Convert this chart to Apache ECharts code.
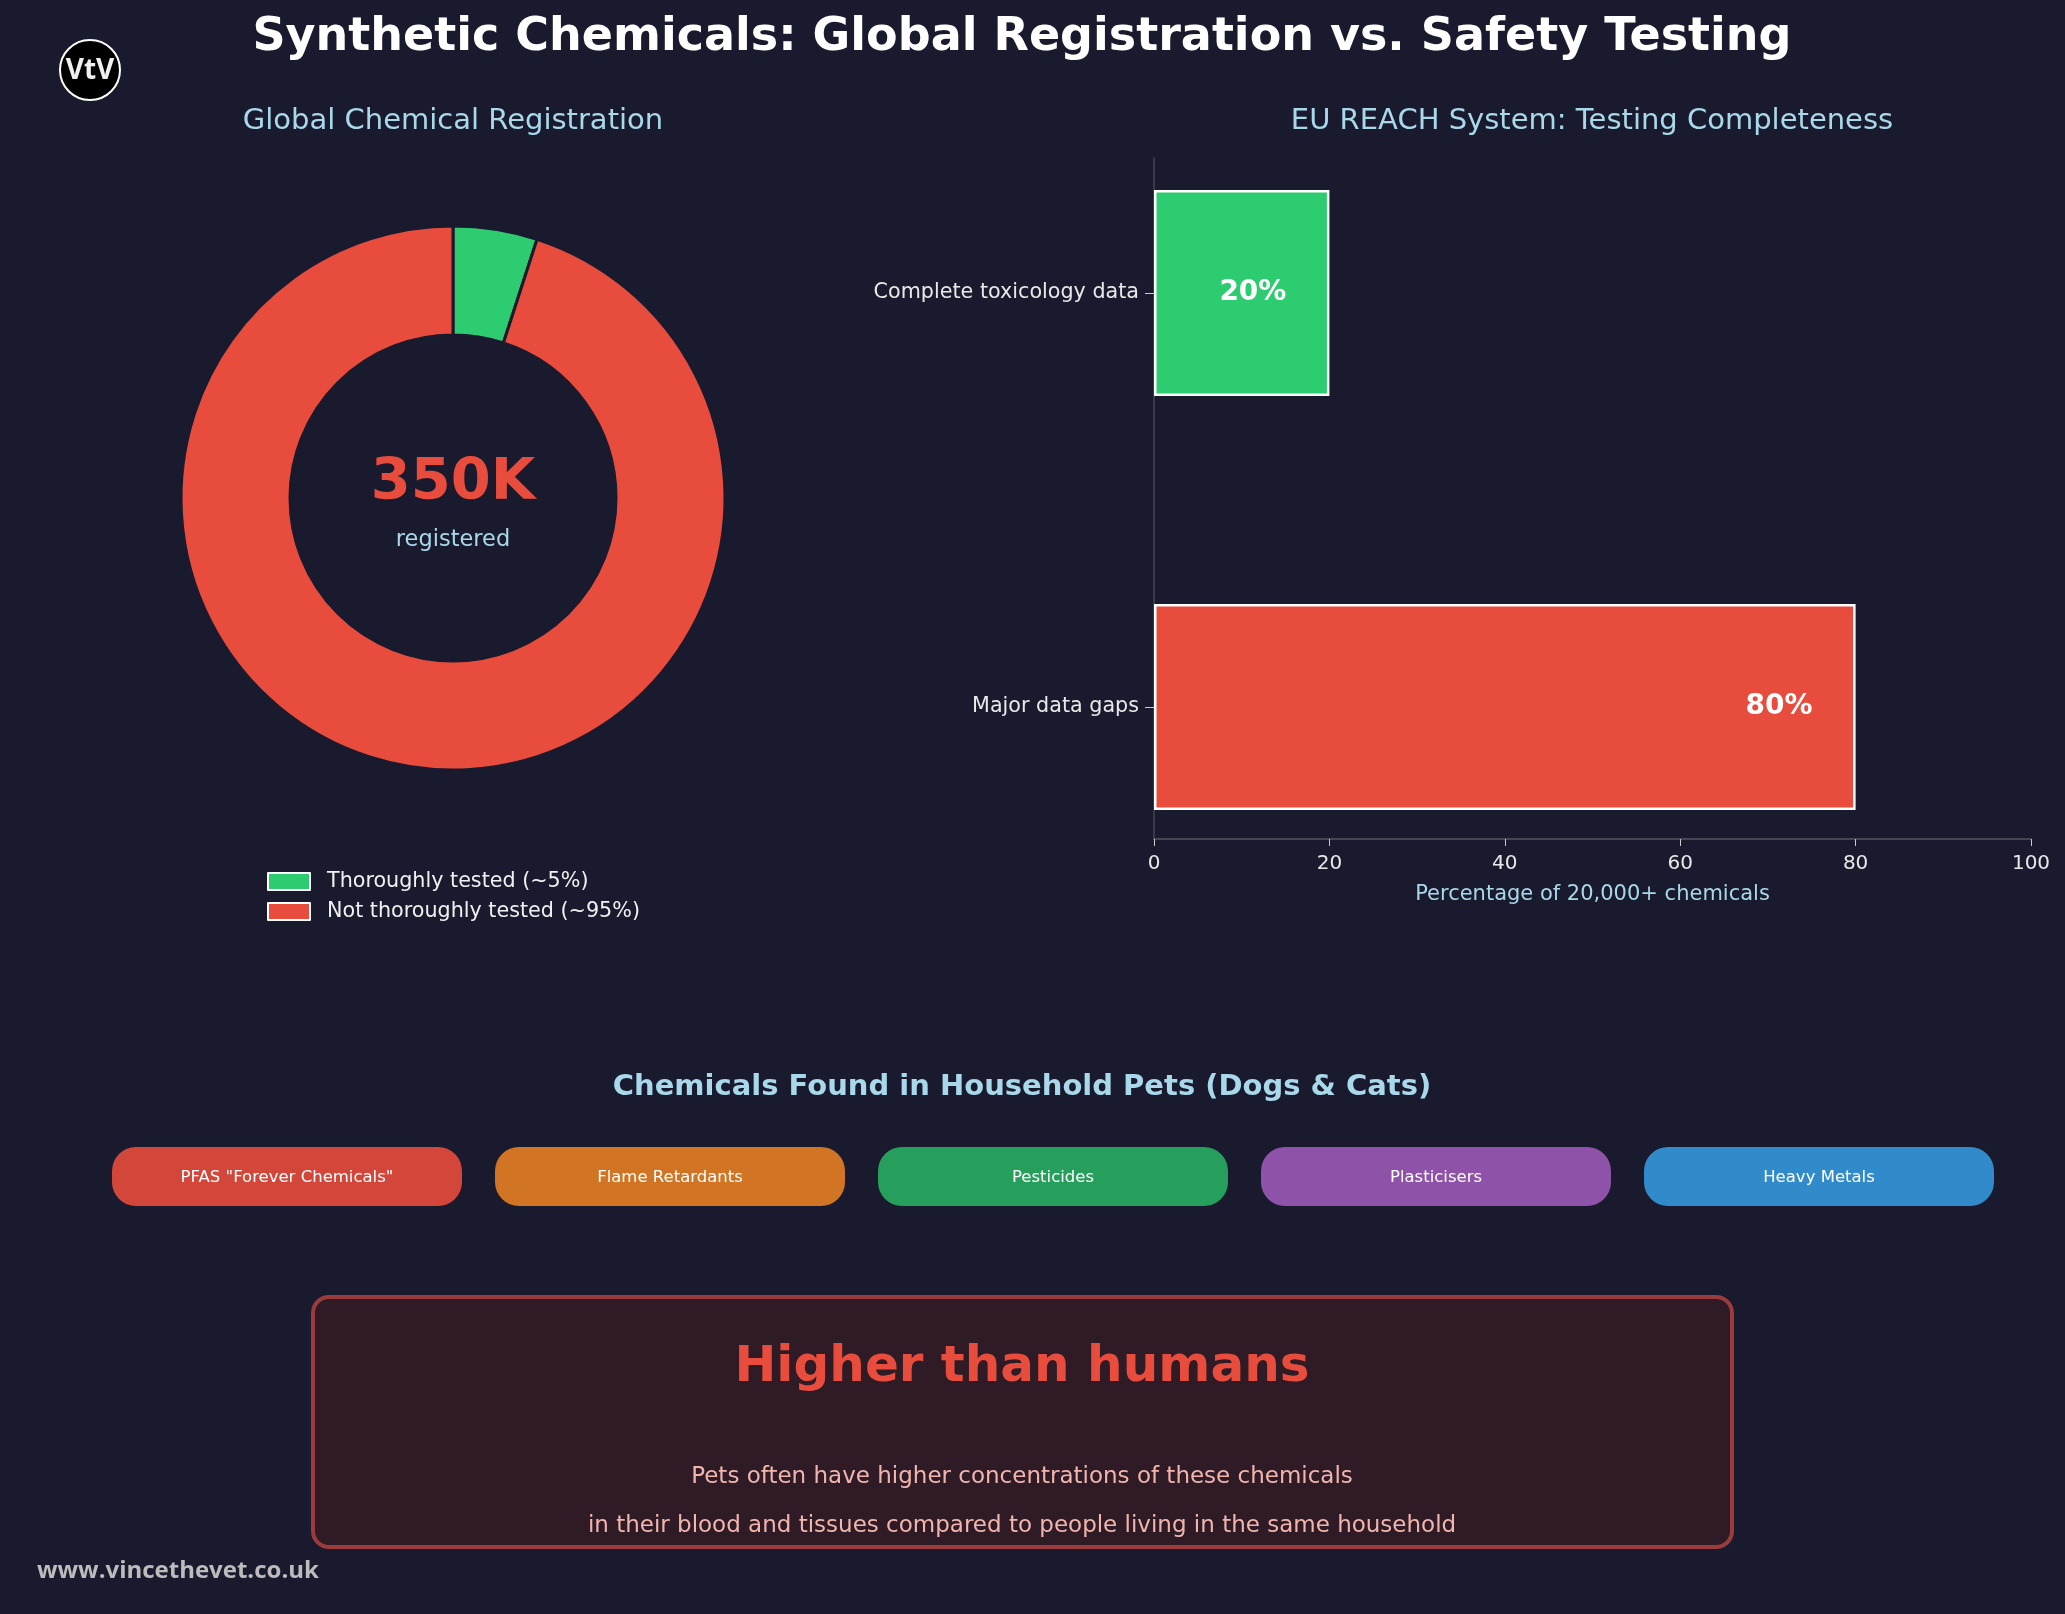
<!DOCTYPE html>
<html>
<head>
<meta charset="utf-8">
<script src="https://cdn.jsdelivr.net/npm/echarts@6/dist/echarts.min.js"></script>
<style>
html,body{margin:0;padding:0;background:#1a1a2e;}
#chart{width:2065px;height:1614px;}
</style>
</head>
<body>
<div id="chart"></div>
<script>
// ---- data ----
const donutLabels = ['Thoroughly tested (~5%)', 'Not thoroughly tested (~95%)'];
const donutValues = [5, 95];
const donutColors = ['#2ecc71', '#e74c3c'];
const registeredTotal = '350K';

const barCategories = ['Complete toxicology data', 'Major data gaps'];
const barValues = [20, 80];
const barColors = ['#2ecc71', '#e74c3c'];
const xTicks = [0, 20, 40, 60, 80, 100];

const petChemicals = ['PFAS "Forever Chemicals"', 'Flame Retardants', 'Pesticides', 'Plasticisers', 'Heavy Metals'];
const petColors = ['#e74c3c', '#e67e22', '#27ae60', '#9b59b6', '#3498db'];

const bg = '#1a1a2e';
const lightBlue = '#a8d8ea';
const font = 'DejaVu Sans';

const chart = echarts.init(document.getElementById('chart'), null, {renderer: 'canvas'});

// pills
const pillW = 350, pillH = 59, pillStart = 112, pillStep = 383, pillTop = 1147;
const pillGraphics = [];
petChemicals.forEach((name, i) => {
  pillGraphics.push({
    type: 'rect',
    shape: {x: pillStart + i * pillStep, y: pillTop, width: pillW, height: pillH, r: 24},
    style: {fill: petColors[i], opacity: 0.9}
  });
  pillGraphics.push({
    type: 'text',
    x: pillStart + i * pillStep + pillW / 2, y: pillTop + pillH / 2 + 1,
    style: {text: name, fill: '#ffffff', font: '16.5px "DejaVu Sans"', textAlign: 'center', textVerticalAlign: 'middle'}
  });
});

const option = {
  backgroundColor: bg,
  animation: false,
  textStyle: {fontFamily: font},
  grid: [
    {left: 1154, right: 34, top: 86, height: 828},
    {left: 1154, right: 34, top: 158, height: 681}
  ],
  xAxis: [
    {gridIndex: 0, type: 'value', min: 0, max: 100, show: false},
    {gridIndex: 1, type: 'value', min: 0, max: 100, interval: 20,
     axisLine: {show: true, lineStyle: {color: '#555560', width: 1.5}},
     axisTick: {show: true, length: 7, lineStyle: {color: '#cccccc'}},
     axisLabel: {color: '#e8e8e8', fontSize: 20, margin: 15, fontFamily: font},
     splitLine: {show: false},
     name: 'Percentage of 20,000+ chemicals', nameLocation: 'middle', nameGap: 45,
     nameTextStyle: {color: lightBlue, fontSize: 21, fontFamily: font}}
  ],
  yAxis: [
    {gridIndex: 0, type: 'category', data: barCategories, inverse: true,
     axisLine: {show: false},
     axisTick: {show: true, alignWithLabel: true, length: 9, lineStyle: {color: '#cccccc'}},
     axisLabel: {color: '#e8e8e8', fontSize: 20.7, margin: 15, fontFamily: font}},
    {gridIndex: 1, type: 'value', min: 0, max: 1,
     axisLine: {show: true, lineStyle: {color: '#444455', width: 1.5}},
     axisTick: {show: false}, axisLabel: {show: false}, splitLine: {show: false}}
  ],
  legend: {
    orient: 'vertical', left: 262, top: 866, itemWidth: 42, itemHeight: 17, itemGap: 9,
    icon: 'rect',
    data: donutLabels,
    itemStyle: {borderColor: '#ffffff', borderWidth: 2},
    textStyle: {color: '#f0f0f0', fontSize: 20.7, fontFamily: font, padding: [0, 0, 0, 12]}
  },
  series: [
    {
      type: 'pie',
      center: [453, 498],
      radius: [163, 272],
      startAngle: 90,
      clockwise: true,
      label: {show: false},
      labelLine: {show: false},
      emphasis: {disabled: true},
      itemStyle: {borderColor: bg, borderWidth: 3},
      data: donutLabels.map((n, i) => ({name: n, value: donutValues[i], itemStyle: {color: donutColors[i]}}))
    },
    {
      type: 'bar',
      xAxisIndex: 0, yAxisIndex: 0,
      barWidth: 206,
      data: barValues.map((v, i) => ({value: v, itemStyle: {color: barColors[i]}})),
      itemStyle: {borderColor: '#ffffff', borderWidth: 2.5},
      label: {show: true, position: 'insideRight', distance: 43, formatter: '{c}%',
              color: '#ffffff', fontWeight: 'bold', fontSize: 28, fontFamily: font}
    }
  ],
  graphic: [
    {type: 'text', x: 1022, y: 38, style: {text: 'Synthetic Chemicals: Global Registration vs. Safety Testing',
      fill: '#ffffff', font: 'bold 46px "DejaVu Sans"', textAlign: 'center', textVerticalAlign: 'middle'}},
    {type: 'circle', shape: {cx: 90, cy: 70, r: 30}, style: {fill: '#000000', stroke: '#ffffff', lineWidth: 2}},
    {type: 'text', x: 90, y: 71, style: {text: 'VtV', fill: '#f0f0f0', font: 'bold 28px "Open Sans"', textAlign: 'center', textVerticalAlign: 'middle'}},
    {type: 'text', x: 453, y: 121, style: {text: 'Global Chemical Registration', fill: lightBlue, font: '29px "DejaVu Sans"', textAlign: 'center', textVerticalAlign: 'middle'}},
    {type: 'text', x: 1592, y: 121, style: {text: 'EU REACH System: Testing Completeness', fill: lightBlue, font: '29px "DejaVu Sans"', textAlign: 'center', textVerticalAlign: 'middle'}},
    {type: 'text', x: 453, y: 484, style: {text: registeredTotal, fill: '#e74c3c', font: 'bold 57.5px "DejaVu Sans"', textAlign: 'center', textVerticalAlign: 'middle'}},
    {type: 'text', x: 453, y: 540, style: {text: 'registered', fill: lightBlue, font: '22.5px "DejaVu Sans"', textAlign: 'center', textVerticalAlign: 'middle'}},
    {type: 'text', x: 1022, y: 1087, style: {text: 'Chemicals Found in Household Pets (Dogs & Cats)', fill: lightBlue, font: 'bold 29px "DejaVu Sans"', textAlign: 'center', textVerticalAlign: 'middle'}},
    ...pillGraphics,
    {type: 'rect', shape: {x: 313, y: 1297, width: 1419, height: 250, r: 16},
     style: {fill: '#2e1b25', stroke: '#9b3c3c', lineWidth: 4}},
    {type: 'text', x: 1022, y: 1368, style: {text: 'Higher than humans', fill: '#e74c3c', font: 'bold 50px "DejaVu Sans"', textAlign: 'center', textVerticalAlign: 'middle'}},
    {type: 'text', x: 1022, y: 1477, style: {text: 'Pets often have higher concentrations of these chemicals', fill: '#f1b5ae', font: '23px "DejaVu Sans"', textAlign: 'center', textVerticalAlign: 'middle'}},
    {type: 'text', x: 1022, y: 1526, style: {text: 'in their blood and tissues compared to people living in the same household', fill: '#f1b5ae', font: '23px "DejaVu Sans"', textAlign: 'center', textVerticalAlign: 'middle'}},
    {type: 'text', x: 37, y: 1571, style: {text: 'www.vincethevet.co.uk', fill: '#bcbcbc', font: 'bold 24px "Open Sans"', textAlign: 'left', textVerticalAlign: 'middle'}}
  ]
};
chart.setOption(option);
</script>
</body>
</html>
